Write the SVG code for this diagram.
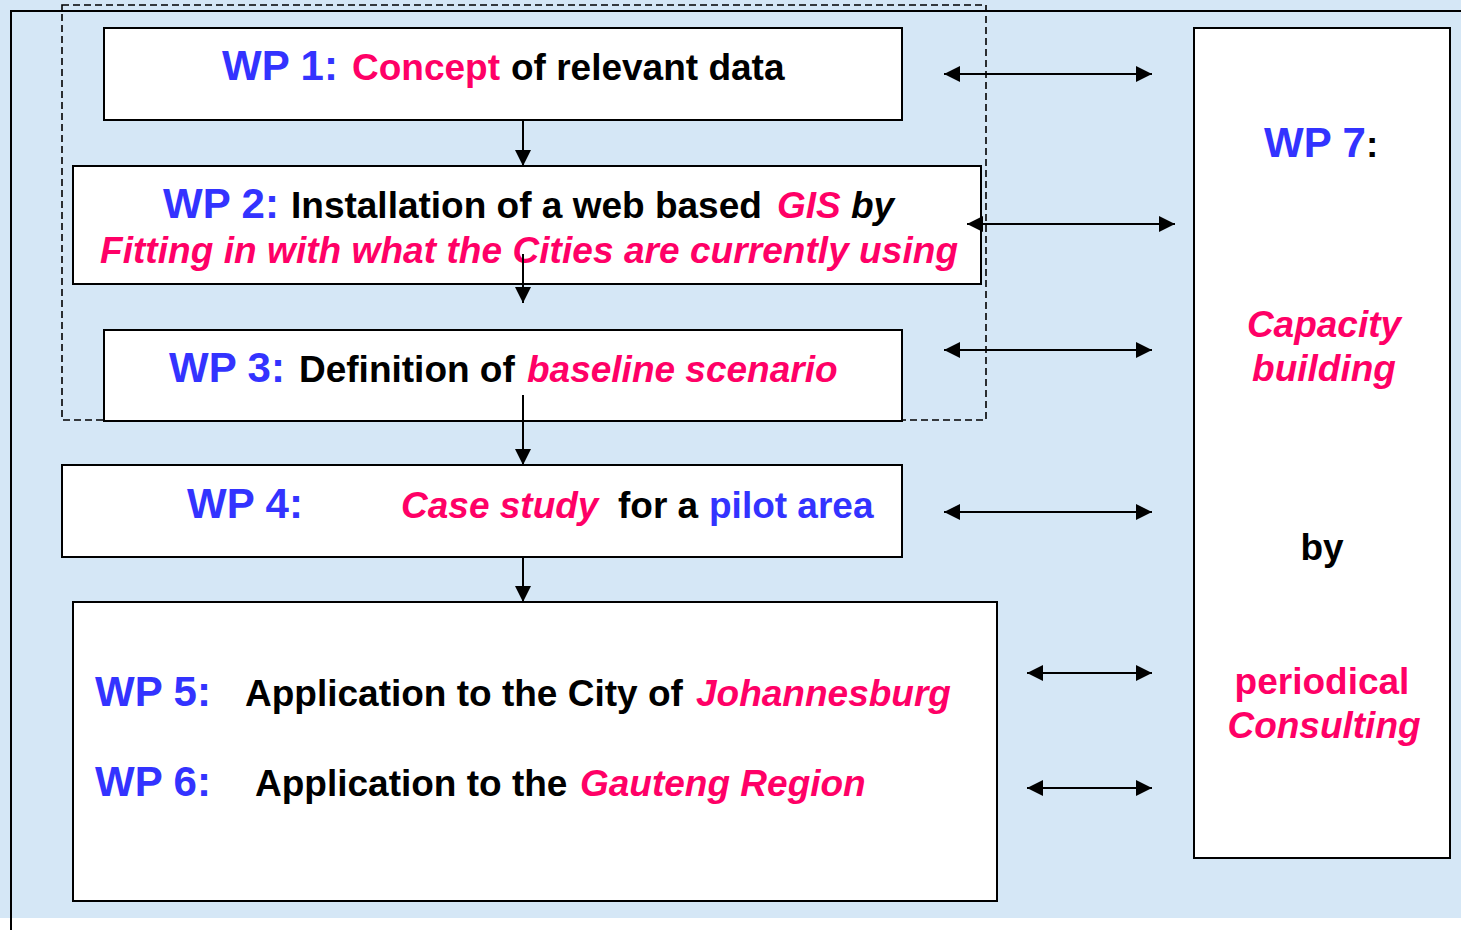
<svg xmlns="http://www.w3.org/2000/svg" width="1461" height="930" viewBox="0 0 1461 930">
<style>
text{font-family:"Liberation Sans",Arial,sans-serif;font-weight:bold;font-size:37px}
.wp{fill:#3333FF;font-size:42px}
.bl{fill:#3333FF}
.pk{fill:#FF0066}
.k{fill:#000}
.it{font-style:italic}
.box{fill:#fff;stroke:#000;stroke-width:2}
.con{stroke:#000;stroke-width:2;fill:none}
</style>
<defs>
<marker id="ah" markerUnits="userSpaceOnUse" markerWidth="16" markerHeight="16" viewBox="0 0 15 15" refX="15" refY="7.5" orient="auto-start-reverse">
<path d="M0,0 L15,7.5 L0,15 z" fill="#000"/>
</marker>
</defs>
<rect x="0" y="0" width="1461" height="918" fill="#D5E7F6"/>
<path d="M11,930 V11 H1461" fill="none" stroke="#000" stroke-width="2"/>
<rect x="62" y="5" width="924" height="415" fill="none" stroke="#000" stroke-width="1.6" stroke-dasharray="7,4"/>

<g id="wp1">
<rect class="box" x="104" y="28" width="798" height="92"/>
<text y="80"><tspan class="wp" x="222">WP 1:</tspan><tspan class="pk" x="352">Concept</tspan><tspan class="k" x="511">of relevant data</tspan></text>
</g>
<g id="wp2">
<rect class="box" x="73" y="166" width="908" height="118"/>
<text y="218"><tspan class="wp" x="163">WP 2:</tspan><tspan class="k" x="291">Installation of a web based</tspan><tspan class="pk it" x="777">GIS</tspan><tspan class="k it" x="851">by</tspan></text>
<text class="pk it" x="100" y="263" textLength="858">Fitting in with what the Cities are currently using</text>
</g>
<g id="wp3">
<rect class="box" x="104" y="330" width="798" height="91"/>
<text y="382"><tspan class="wp" x="169">WP 3:</tspan><tspan class="k" x="299">Definition of</tspan><tspan class="pk it" x="527">baseline scenario</tspan></text>
</g>
<g id="wp4">
<rect class="box" x="62" y="465" width="840" height="92"/>
<text y="518"><tspan class="wp" x="187">WP 4:</tspan><tspan class="pk it" x="401">Case study</tspan><tspan class="k" x="618">for a</tspan><tspan class="bl" x="709">pilot area</tspan></text>
</g>
<g id="wp56">
<rect class="box" x="73" y="602" width="924" height="299"/>
<text y="706"><tspan class="wp" x="95">WP 5:</tspan><tspan class="k" x="245">Application to the City of</tspan><tspan class="pk it" x="696">Johannesburg</tspan></text>
<text y="796"><tspan class="wp" x="95">WP 6:</tspan><tspan class="k" x="255">Application to the</tspan><tspan class="pk it" x="580">Gauteng Region</tspan></text>
</g>
<g id="wp7">
<rect class="box" x="1194" y="28" width="256" height="830"/>
<text y="157"><tspan class="wp" x="1264">WP 7</tspan><tspan class="k">:</tspan></text>
<text class="pk it" x="1324" y="337" text-anchor="middle">Capacity</text>
<text class="pk it" x="1324" y="381" text-anchor="middle">building</text>
<text class="k" x="1322" y="560" text-anchor="middle">by</text>
<text class="pk" x="1322" y="694" text-anchor="middle">periodical</text>
<text class="pk it" x="1324" y="738" text-anchor="middle">Consulting</text>
</g>

<g id="connectors" class="con">
<line x1="523" y1="120" x2="523" y2="166" marker-end="url(#ah)"/>
<line x1="523" y1="254" x2="523" y2="303" marker-end="url(#ah)"/>
<line x1="523" y1="395" x2="523" y2="465" marker-end="url(#ah)"/>
<line x1="523" y1="557" x2="523" y2="602" marker-end="url(#ah)"/>
<line x1="944" y1="74" x2="1152" y2="74" marker-start="url(#ah)" marker-end="url(#ah)"/>
<line x1="967" y1="224" x2="1175" y2="224" marker-start="url(#ah)" marker-end="url(#ah)"/>
<line x1="944" y1="350" x2="1152" y2="350" marker-start="url(#ah)" marker-end="url(#ah)"/>
<line x1="944" y1="512" x2="1152" y2="512" marker-start="url(#ah)" marker-end="url(#ah)"/>
<line x1="1027" y1="673" x2="1152" y2="673" marker-start="url(#ah)" marker-end="url(#ah)"/>
<line x1="1027" y1="788" x2="1152" y2="788" marker-start="url(#ah)" marker-end="url(#ah)"/>
</g>
</svg>
